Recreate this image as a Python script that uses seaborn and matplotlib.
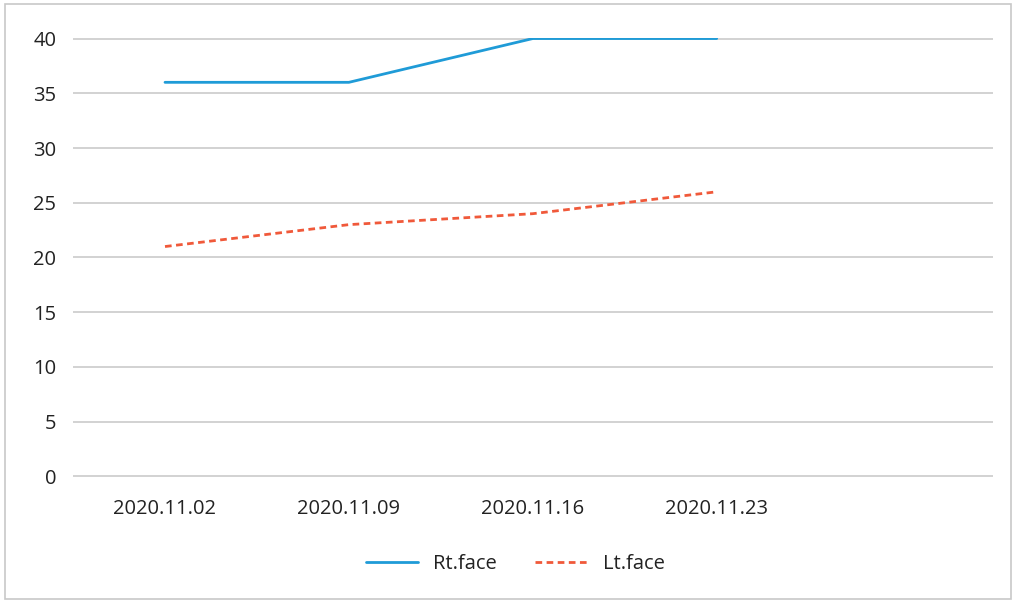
import pandas as pd
import seaborn as sns
import matplotlib.pyplot as plt
from matplotlib.patches import Rectangle
from matplotlib.lines import Line2D

# Chart data
dates = ["2020.11.02", "2020.11.09", "2020.11.16", "2020.11.23", ""]
rt_face = [36, 36, 40, 40]
lt_face = [21, 23, 24, 26]
y_ticks = [0, 5, 10, 15, 20, 25, 30, 35, 40]

df = pd.DataFrame({
    "Date": dates[:4] * 2,
    "pos": list(range(4)) * 2,
    "Value": rt_face + lt_face,
    "Side": ["Rt.face"] * 4 + ["Lt.face"] * 4,
})

sns.set_style("white")
plt.rcParams["font.family"] = ["Open Sans", "DejaVu Sans"]

colors = {"Rt.face": "#1f9bd7", "Lt.face": "#f0593a"}

fig = plt.figure(figsize=(10.16, 6.03), dpi=100)
ax = fig.add_axes([0.0719, 0.209, 0.905, 0.728])

sns.lineplot(
    data=df, x="pos", y="Value", hue="Side", style="Side",
    palette=colors, dashes={"Rt.face": "", "Lt.face": (2.4, 1.6)},
    linewidth=2.0, ax=ax, legend=False,
)

ax.set_xlim(-0.5, len(dates) - 0.5)
ax.set_ylim(-0.05, 40.05)
ax.set_xticks(range(len(dates)))
ax.set_xticklabels(dates)
ax.set_yticks(y_ticks)
ax.yaxis.grid(True, color="#c6c6c6", linewidth=1.1)
ax.set_axisbelow(True)
for s in ax.spines.values():
    s.set_visible(False)
ax.tick_params(axis="both", length=0, labelsize=14.5, colors="#222222")
ax.tick_params(axis="x", pad=16)
ax.tick_params(axis="y", pad=12)
ax.set_xlabel("")
ax.set_ylabel("")

# legend
handles = [
    Line2D([], [], color=colors["Rt.face"], linewidth=2.0),
    Line2D([], [], color=colors["Lt.face"], linewidth=2.0, linestyle=(0, (2.4, 1.6))),
]
fig.legend(handles, ["Rt.face", "Lt.face"], loc="center", bbox_to_anchor=(0.507, 0.064),
           ncol=2, frameon=False, fontsize=14.5, handlelength=2.6, columnspacing=1.9,
           handletextpad=0.75, labelcolor="#222222")

fig.patches.append(Rectangle((0.005, 0.006), 0.99, 0.987, transform=fig.transFigure,
                             fill=False, edgecolor="#c8c8c8", linewidth=1.2))

plt.savefig("out.png", dpi=100)
